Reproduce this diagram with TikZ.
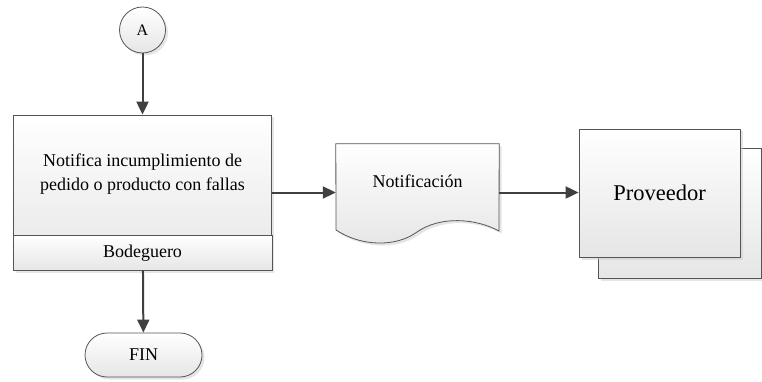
\documentclass[tikz,border=0pt]{standalone}
\usepackage{fontspec}
\setmainfont{Liberation Serif}
\usetikzlibrary{arrows.meta,shadows,calc}
\definecolor{edgegray}{HTML}{555555}
\definecolor{wiregray}{HTML}{404040}
\tikzset{
  shapebox/.style={draw=edgegray, line width=0.8pt, top color=white, bottom color=black!10,
    drop shadow={shadow xshift=2.5pt, shadow yshift=-2.5pt, fill=black!20}},
  plainbox/.style={draw=edgegray, line width=0.8pt, top color=white, bottom color=black!10},
  flow/.style={draw=wiregray, line width=2pt, -{Triangle[length=13pt,width=12pt]}},
  txt/.style={font=\fontsize{18}{24}\selectfont, align=center, inner sep=0pt}
}
\begin{document}
\begin{tikzpicture}[x=1pt,y=-1pt]
\useasboundingbox (0,0) rectangle (762,382);

% connector A
\node[shapebox, circle, minimum size=46pt, inner sep=0pt, font=\fontsize{16}{18}\selectfont] (a) at (142.5,30) {A};

% activity with role band
\node[shapebox, rectangle, minimum width=258pt, minimum height=155pt, inner sep=0pt] (task) at (142.5,192.5) {};
\path[plainbox] (task.south west) rectangle ($(task.south east)+(0,-35)$);
\node[txt] (tasktext) at (142.5,174) {Notifica incumplimiento de\\pedido o producto con fallas};
\node[txt] (role) at (142.5,253) {Bodeguero};

% terminator
\node[shapebox, rectangle, rounded corners=22pt, minimum width=117pt, minimum height=44pt, inner sep=0pt, font=\fontsize{18}{20}\selectfont] (fin) at (143.5,355) {FIN};

% document
\node[minimum width=163pt, minimum height=87pt, inner sep=0pt] (doc) at (417.5,187.5) {};
\path[shapebox] (doc.north west) -- (doc.north east) -- (499,231)
  .. controls (475,218) and (440,216) .. (417,232)
  .. controls (395,248) and (360,246) .. (336,230) -- cycle;
\node[txt] (doctext) at (417.5,181) {Notificación};

% external entity (stacked)
\node[shapebox, rectangle, minimum width=163pt, minimum height=130pt, inner sep=0pt] (provback) at (679.5,213) {};
\node[shapebox, rectangle, minimum width=161pt, minimum height=128pt, inner sep=0pt, font=\fontsize{22.5}{26}\selectfont] (prov) at (659.5,193) {Proveedor};

% connectors
\draw[flow] (a) -- (task);
\draw[flow] (task) -- (fin);
\draw[flow] (task.east) -- (task.east -| doc.west);
\draw[flow] (doc.east |- task.east) -- (prov.west |- task.east);
\end{tikzpicture}
\end{document}
